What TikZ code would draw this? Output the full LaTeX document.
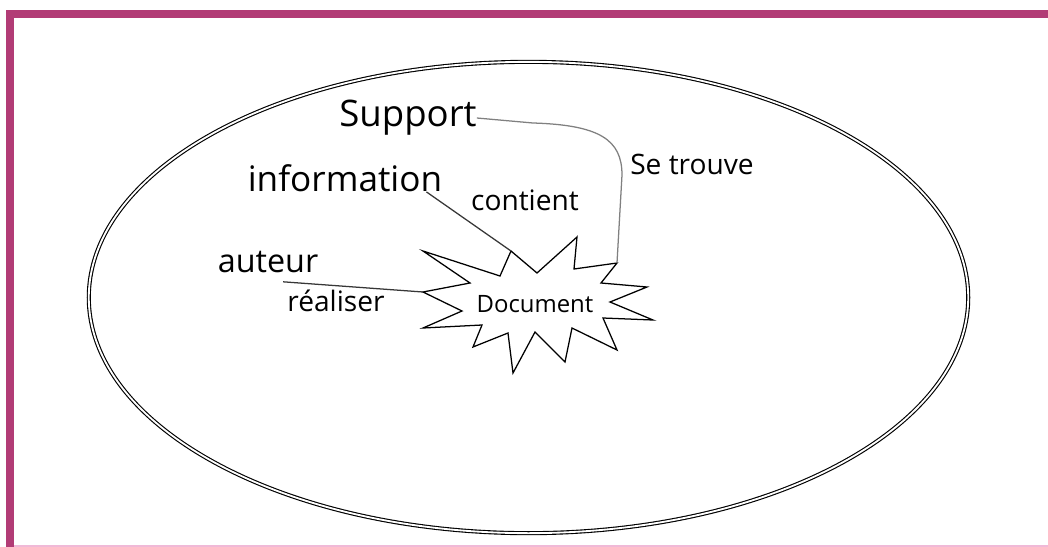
\documentclass[tikz,border=0pt]{standalone}
\usepackage{fontspec}
\setmainfont{Open Sans}
\newfontfamily\handfont{Open Sans}
\newfontfamily\docfont{Open Sans}
\newcommand{\handsz}[1]{\handfont\fontsize{#1}{#1}\selectfont}
\definecolor{frameMag}{RGB}{178,60,118}
\definecolor{framePink}{RGB}{240,185,215}
\definecolor{penGray}{RGB}{55,55,55}
\usepackage{tikz}
\usetikzlibrary{positioning}

\begin{document}
\begin{tikzpicture}[
      x=0.025cm, y=-0.025cm,
      word/.style={inner sep=0pt, text=black},
      link/.style={penGray, line width=0.9pt},
      burst/.style={draw=black, line width=0.9pt, line join=miter},
      loop/.style={draw=black, line width=0.8pt, double=white, double distance=1.3pt}
    ]
      \useasboundingbox (0,0) rectangle (1048,547);

      % Frame
      \fill[frameMag] (6,10) rectangle (1048,18);
      \fill[frameMag] (6,10) rectangle (14,547);
      \fill[framePink] (14,544.5) rectangle (1048,546.5);

      % Outer ellipse
      \draw[loop] (528.5,297.5) ellipse [x radius=10.99cm, y radius=5.89cm];

      % Star around the document
      \draw[burst] (423,251) -- (500,276) -- (511,251) coordinate (tipInfo)
        -- (537,273) -- (577,237) -- (574,269) -- (617,263) coordinate (tipSupport)
        -- (601,283) -- (647,287) -- (610,302) -- (653,320) -- (603,318)
        -- (617,350) -- (572,328) -- (565,362) -- (535,332) -- (513,373)
        -- (508,333) -- (473,347) -- (482,325) -- (423,328) -- (462,311)
        -- (423,292) coordinate (tipAuteur) -- (470,283) -- cycle;
      \node[word, font=\docfont\fontsize{17}{18}\selectfont] (doc) at (535,304)
        {Document};

      % Words
      \node[word, font={\handsz{26}}] (support) at (408,118) {Support};
      \node[word, font={\handsz{25}}] (information) at (345,178) {information};
      \node[word, font={\handsz{20}}] (contient) at (525,200) {contient};
      \node[word, font={\handsz{20}}] (setrouve) at (692,164) {Se trouve};
      \node[word, font={\handsz{23}}] (auteur) at (268,262) {auteur};
      \node[word, font={\handsz{20}}] (realiser) at (336,301) {réaliser};

      % Links
      \draw[link, gray] (support.east) -- (533,123)
        .. controls (600,125) and (622,140) .. (622,175) -- (tipSupport);
      \draw[link] ([xshift=-0.4cm]information.south east) -- (tipInfo);
      \draw[link] ([xshift=-0.1cm,yshift=0.2cm]realiser.north west) -- (tipAuteur);
    \end{tikzpicture}
\end{document}
